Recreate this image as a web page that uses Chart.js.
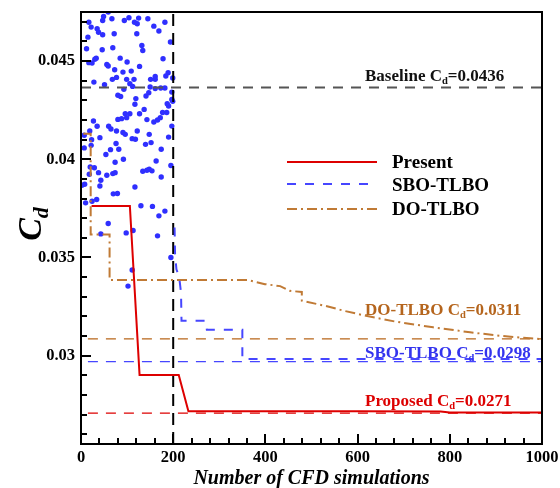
<!DOCTYPE html>
<html><head><meta charset="utf-8">
<script src="https://cdn.jsdelivr.net/npm/chart.js@4"></script>
<style>html,body{margin:0;padding:0;background:#fff}canvas{display:block}</style>
</head><body>
<canvas id="c" width="560" height="488"></canvas>
<script>
// ---- data ----
const xTicks = [0, 200, 400, 600, 800, 1000];
const xTickLabels = ['0', '200', '400', '600', '800', '1000'];
const yTicks = [0.03, 0.035, 0.04, 0.045];
const yTickLabels = ['0.03', '0.035', '0.04', '0.045'];

const sampleX = [59,17,22,49,47,67,35,38,47,15,72,94,104,116,122,125,145,158,169,182,121,194,12,46,69,132,134,85,33,30,17,24,56,59,100,178,73,91,109,127,189,184,199,68,77,99,115,151,161,161,28,51,106,
93,112,161,150,173,182,197,147,141,80,86,119,197,199,187,190,117,137,127,96,106,99,88,80,177,186,172,166,143,158,27,35,60,65,77,91,96,122,197,19,7,41,111,118,148,190,23,22,76,140,152,7,64,82,174,54,74,92,163,20,29,195,
38,18,8,2,43,41,56,69,74,134,143,148,154,174,117,70,79,34,24,10,130,155,182,169,59,98,113,43,166,195,111,102];
const sampleCd = [0.0475,0.04698,0.04673,0.04727,0.04707,0.04716,0.04665,0.04647,0.04634,0.04622,0.04639,0.04707,0.04721,0.04698,0.0469,0.04719,0.04716,0.04678,0.04653,0.04698,0.04639,0.04597,0.04563,0.04558,0.04568,0.0458,0.04554,0.04515,0.04515,0.04509,0.04492,0.0449,0.04483,0.04475,0.04495,0.04512,0.04456,0.04444,0.04449,0.04473,0.04441,0.04424,0.04414,0.04407,0.04417,0.04407,0.04407,0.04407,0.04422,0.04407,0.04393,0.0438,0.04385,
0.04356,0.04371,0.0436,0.04368,0.04363,0.04363,0.04342,0.04339,0.04322,0.04326,0.0432,0.04309,0.04305,0.04295,0.04283,0.04271,0.0428,0.04254,0.04232,0.04232,0.04232,0.04212,0.04207,0.04203,0.04238,0.04238,0.04212,0.042,0.04202,0.0419,0.04195,0.04168,0.04168,0.04154,0.04144,0.04136,0.04127,0.04144,0.04169,0.04144,0.04122,0.0411,0.04105,0.04102,0.04127,0.04113,0.041,0.04071,0.0408,0.04076,0.04085,0.04058,0.04049,0.04051,0.04051,0.04024,0.03985,0.04,0.03991,0.03961,0.03957,0.03968,
0.03932,0.03924,0.03873,0.03868,0.03893,0.03864,0.03919,0.03927,0.03932,0.03939,0.03944,0.03949,0.03941,0.0391,0.03859,0.03824,0.03826,0.03795,0.03786,0.03778,0.03763,0.0376,0.03736,0.03712,0.03673,0.03625,0.03637,0.0362,0.0361,0.035,0.03436,0.03354];

const presentX  = [23, 106, 127, 212, 233, 600, 780, 800, 1000];
const presentCd = [0.03762, 0.03762, 0.02902, 0.02902, 0.02717, 0.02717, 0.02716, 0.0271, 0.0271];

const sboX  = [203, 204, 207, 213, 217, 218, 270, 273, 350, 350, 1000];
const sboCd = [0.03653, 0.0352, 0.0344, 0.034, 0.0332, 0.03178, 0.03178, 0.03132, 0.03132, 0.02983, 0.02983];

const doX  = [5, 21, 21, 62, 62, 362, 399, 432, 453, 479, 479, 529, 573, 618, 683, 764, 844, 909, 974, 1000];
const doCd = [0.0413, 0.0413, 0.03617, 0.03617, 0.03385, 0.03385, 0.03364, 0.03354, 0.0333, 0.03324, 0.0328, 0.03254, 0.03227, 0.03203, 0.03173, 0.03144, 0.03119, 0.03101, 0.03088, 0.03084];

const baselineCd = 0.04365;
const proposedRef = 0.02707;
const sboRef = 0.0297;
const doRef = 0.03085;
const refX = [15, 1000];
const initialSamples = 200;

const legendLabels = ['Present', 'SBO-TLBO', 'DO-TLBO'];
const annotations = [
  {pre: 'Baseline C', sub: 'd', post: '=0.0436', color: '#111111', base: 80.5},
  {pre: 'DO-TLBO C', sub: 'd', post: '=0.0311', color: '#b5651d', base: 315},
  {pre: 'SBO-TLBO C', sub: 'd', post: '=0.0298', color: '#3434ee', base: 358},
  {pre: 'Proposed C', sub: 'd', post: '=0.0271', color: '#dd0000', base: 405.5},
];
// ---- end data ----

const RED = '#dd0000', BLUE = '#4646ff', BROWN = '#c07a35', GRAY = '#555555';
const pts = (xs, ys) => xs.map((x, i) => ({x, y: ys[i]}));
const SERIF = '"Liberation Serif", "Times New Roman", serif';

const lineDs = (data, color, width, dash, order) => ({
  data, showLine: true, borderColor: color, borderWidth: width, borderDash: dash,
  pointRadius: 0, fill: false, tension: 0, order
});

const datasets = [
  { data: pts(sampleX, sampleCd), showLine: false, pointRadius: 2.7, pointBackgroundColor: '#2f2fff', pointBorderWidth: 0, order: 9 },
  lineDs([{x:0,y:baselineCd},{x:1000,y:baselineCd}], GRAY, 2, [10, 8], 8),
  lineDs([{x:initialSamples,y:0.0255},{x:initialSamples,y:0.0475}], '#000', 2, [12, 7], 7),
  lineDs(refX.map(x => ({x, y: doRef})), '#b8661a', 1.3, [10, 8], 6),
  lineDs(refX.map(x => ({x, y: sboRef})), BLUE, 1.3, [10, 8], 5),
  lineDs(refX.map(x => ({x, y: proposedRef})), RED, 1.3, [10, 8], 4),
  lineDs(pts(doX, doCd), BROWN, 2, [10, 4, 2, 4], 3),
  lineDs(pts(sboX, sboCd), BLUE, 2, [9, 9], 2),
  lineDs(pts(presentX, presentCd), RED, 2, [], 1),
];

function drawSubText(ctx, x, y, pre, sub, post, size, color) {
  ctx.save();
  ctx.fillStyle = color;
  ctx.textAlign = 'left';
  ctx.textBaseline = 'alphabetic';
  ctx.font = `bold ${size}px ${SERIF}`;
  ctx.fillText(pre, x, y);
  let w = ctx.measureText(pre).width;
  ctx.font = `bold ${size * 0.62}px ${SERIF}`;
  ctx.fillText(sub, x + w, y + size * 0.2);
  w += ctx.measureText(sub).width;
  ctx.font = `bold ${size}px ${SERIF}`;
  ctx.fillText(post, x + w, y);
  ctx.restore();
}

const deco = {
  id: 'deco',
  afterDraw(chart) {
    const {ctx, chartArea: a, scales: {x, y}} = chart;
    ctx.save();
    ctx.strokeStyle = '#000';
    ctx.lineWidth = 2;
    ctx.setLineDash([]);
    ctx.strokeRect(a.left, a.top, a.right - a.left, a.bottom - a.top);
    ctx.beginPath();
    for (let v = 0; v <= 1000; v += 40) {
      const px = Math.round(x.getPixelForValue(v));
      const len = (v % 200 === 0) ? 10 : 6;
      ctx.moveTo(px, a.bottom); ctx.lineTo(px, a.bottom - len);
    }
    for (let k = 26; k <= 47; k++) {
      const py = Math.round(y.getPixelForValue(k / 1000));
      const len = (k % 5 === 0) ? 10 : 6;
      ctx.moveTo(a.left, py); ctx.lineTo(a.left + len, py);
    }
    ctx.stroke();

    // legend
    const lx0 = 287, lx1 = 377;
    const legend = [
      {y: 162, color: RED, dash: [], base: 168},
      {y: 184, color: BLUE, dash: [9, 9], base: 191},
      {y: 209, color: BROWN, dash: [10, 4, 2, 4], base: 215},
    ];
    legend.forEach((l, i) => {
      ctx.beginPath();
      ctx.strokeStyle = l.color; ctx.lineWidth = 2; ctx.setLineDash(l.dash);
      ctx.moveTo(lx0, l.y); ctx.lineTo(lx1, l.y); ctx.stroke();
      ctx.setLineDash([]);
      ctx.fillStyle = '#000';
      ctx.font = `bold 19px ${SERIF}`;
      ctx.textAlign = 'left';
      ctx.fillText(legendLabels[i], 392, l.base);
    });

    annotations.forEach(t => drawSubText(ctx, 365, t.base, t.pre, t.sub, t.post, 17, t.color));

    // axis titles
    ctx.fillStyle = '#000';
    ctx.font = `italic bold 20px ${SERIF}`;
    ctx.textAlign = 'center';
    ctx.textBaseline = 'alphabetic';
    ctx.fillText('Number of CFD simulations', (a.left + a.right) / 2, 484);

    ctx.save();
    ctx.translate(41, 224);
    ctx.rotate(-Math.PI / 2);
    ctx.font = `italic bold 34px ${SERIF}`;
    const wc = ctx.measureText('C').width;
    ctx.font = `italic bold 22px ${SERIF}`;
    const wd = ctx.measureText('d').width;
    const start = -(wc + wd) / 2;
    ctx.textAlign = 'left';
    ctx.font = `italic bold 34px ${SERIF}`;
    ctx.fillText('C', start, 0);
    ctx.font = `italic bold 22px ${SERIF}`;
    ctx.fillText('d', start + wc, 7);
    ctx.restore();

    ctx.restore();
  }
};

new Chart(document.getElementById('c'), {
  type: 'scatter',
  data: { datasets },
  options: {
    responsive: false,
    animation: false,
    layout: { padding: { left: 0, right: 18, top: 12, bottom: 0 } },
    plugins: { legend: { display: false }, tooltip: { enabled: false } },
    scales: {
      x: {
        type: 'linear', min: 0, max: 1000,
        afterBuildTicks: s => { s.ticks = xTicks.map(v => ({value: v})); },
        afterFit: s => { s.height = 44; s.paddingLeft = 0; s.paddingRight = 0; },
        grid: { display: false, drawTicks: false },
        border: { display: false },
        ticks: {
          font: { family: SERIF, weight: 'bold', size: 16.5 }, color: '#000', padding: 4,
          maxRotation: 0, autoSkip: false,
          callback: (v, i) => xTickLabels[i]
        }
      },
      y: {
        type: 'linear', min: 0.0255, max: 0.0475,
        afterBuildTicks: s => { s.ticks = yTicks.map(v => ({value: v})); },
        afterFit: s => { s.width = 81; s.paddingTop = 0; s.paddingBottom = 0; },
        grid: { display: false, drawTicks: false },
        border: { display: false },
        ticks: {
          font: { family: SERIF, weight: 'bold', size: 16.5 }, color: '#000', padding: 6,
          autoSkip: false,
          callback: (v, i) => yTickLabels[i]
        }
      }
    }
  },
  plugins: [deco]
});
</script>
</body></html>
